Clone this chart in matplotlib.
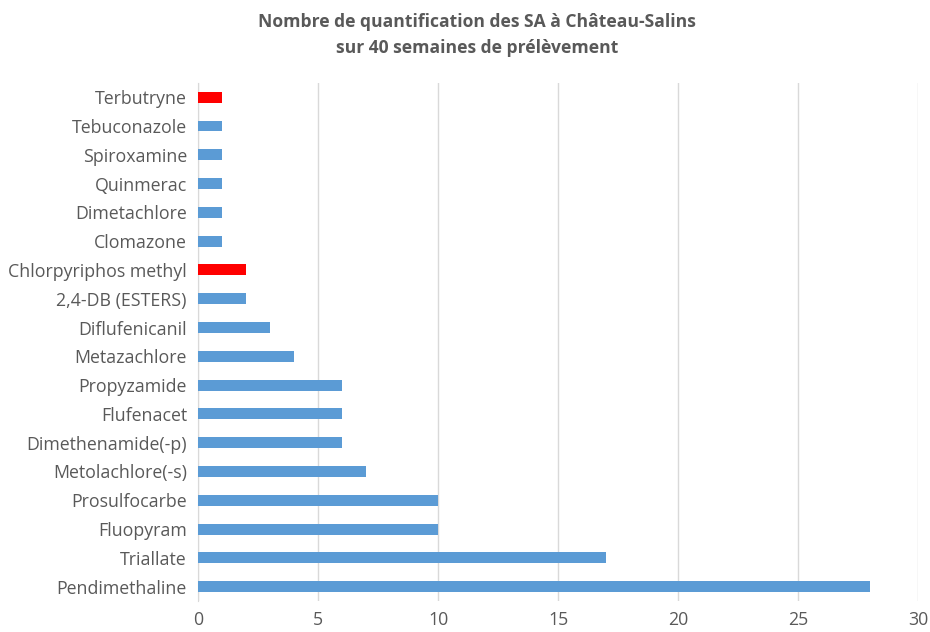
import matplotlib.pyplot as plt

# Données (de bas en haut)
substances = ["Pendimethaline", "Triallate", "Fluopyram", "Prosulfocarbe",
              "Metolachlore(-s)", "Dimethenamide(-p)", "Flufenacet", "Propyzamide",
              "Metazachlore", "Diflufenicanil", "2,4-DB (ESTERS)", "Chlorpyriphos methyl",
              "Clomazone", "Dimetachlore", "Quinmerac", "Spiroxamine",
              "Tebuconazole", "Terbutryne"]
quantifications = [28, 17, 10, 10, 7, 6, 6, 6, 4, 3, 2, 2, 1, 1, 1, 1, 1, 1]
en_rouge = ["Chlorpyriphos methyl", "Terbutryne"]

plt.rcParams['font.family'] = ['Open Sans', 'DejaVu Sans']
gris = '#595959'

fig = plt.figure(figsize=(9.3, 6.32), dpi=100)
ax = fig.add_axes([0.213, 0.049, 0.774, 0.82])

couleurs = ['#FF0000' if s in en_rouge else '#5B9BD5' for s in substances]
ax.barh(substances, quantifications, height=0.38, color=couleurs, zorder=3)

ax.set_xlim(0, 30)
ax.set_ylim(-0.5, len(substances) - 0.5)
ax.set_xticks(range(0, 31, 5))
ax.grid(axis='x', color='#D9D9D9', linewidth=1, zorder=0)
for side in ['top', 'right', 'bottom']:
    ax.spines[side].set_visible(False)
ax.spines['left'].set_color('#D9D9D9')
ax.tick_params(axis='both', length=0, labelsize=12.8, labelcolor=gris)
ax.tick_params(axis='x', pad=7)
ax.tick_params(axis='y', pad=8)

fig.text(0.513, 0.965, "Nombre de quantification des SA à Château-Salins",
         ha='center', va='center', fontsize=12.6, fontweight='bold', color=gris)
fig.text(0.513, 0.924, "sur 40 semaines de prélèvement",
         ha='center', va='center', fontsize=12.6, fontweight='bold', color=gris)

plt.savefig("out.png", dpi=100)
